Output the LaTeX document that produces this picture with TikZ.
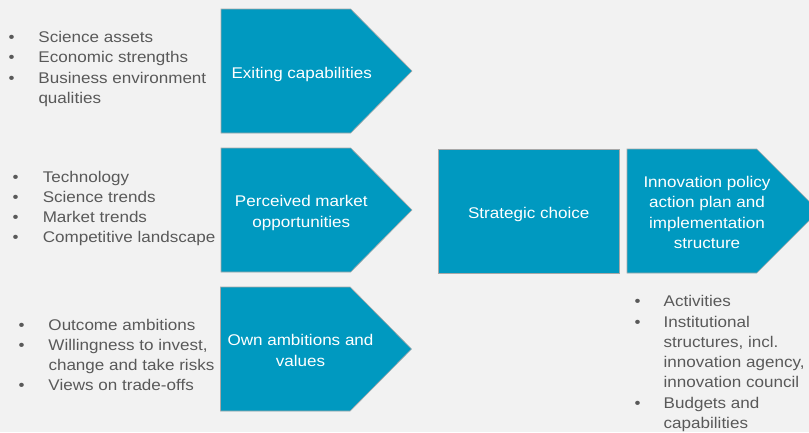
\documentclass[tikz,border=0pt]{standalone}
\usepackage{fontspec}
\setmainfont[FakeStretch=1.1]{Liberation Sans}
\definecolor{bgc}{HTML}{F2F2F2}
\definecolor{bluec}{HTML}{0099C0}
\definecolor{edgec}{HTML}{A8A8A8}
\definecolor{txtc}{HTML}{595959}
\begin{document}
\begin{tikzpicture}[x=1pt,y=-1pt,
  shapefill/.style={fill=bluec,draw=edgec,line width=0.6pt},
  listtxt/.style={anchor=base west,inner sep=0pt,text=txtc,font=\fontsize{15.5}{20.3}\selectfont},
  boxtxt/.style={anchor=base,inner sep=0pt,text=white,font=\fontsize{15.5}{20.5}\selectfont}]
\useasboundingbox (0,0) rectangle (809,432);
\clip (0,0) rectangle (809,432);
\fill[bgc] (0,0) rectangle (809,432);
% pentagon arrows
\draw[shapefill] (221,9) -- (350.7,9) -- (412,71) -- (350.7,133) -- (221,133) -- cycle;
\draw[shapefill] (221,148) -- (350.7,148) -- (412,210) -- (350.7,272) -- (221,272) -- cycle;
\draw[shapefill] (220.5,287) -- (350.2,287) -- (411.5,349) -- (350.2,411) -- (220.5,411) -- cycle;
\draw[shapefill] (438.3,149) rectangle (619,273);
\draw[shapefill] (627,149) -- (756.7,149) -- (818.7,211) -- (756.7,273) -- (627,273) -- cycle;
% box labels
\node[boxtxt] (exist) at (301.7,78.3) {Exiting capabilities};
\node[boxtxt] (market) at (301.3,206.7) {\begin{tabular}[t]{@{}c@{}}Perceived market\\opportunities\end{tabular}};
\node[boxtxt] (own) at (300.5,345.7) {\begin{tabular}[t]{@{}c@{}}Own ambitions and\\values\end{tabular}};
\node[boxtxt] (strat) at (528.7,218.3) {Strategic choice};
\node[boxtxt] (innov) at (707,187.3) {\begin{tabular}[t]{@{}c@{}}Innovation policy\\action plan and\\implementation\\structure\end{tabular}};
% bullet lists
\node[listtxt] (l1) at (8.5,42.5) {\begin{tabular}[t]{@{}p{29.8pt}@{}l@{}}
•&Science assets\\
•&Economic strengths\\
•&Business environment\\
&qualities\end{tabular}};
\node[listtxt] (l2) at (12.5,182) {\begin{tabular}[t]{@{}p{30.1pt}@{}l@{}}
•&Technology\\
•&Science trends\\
•&Market trends\\
•&Competitive landscape\end{tabular}};
\node[listtxt] (l3) at (18.3,330) {\begin{tabular}[t]{@{}p{30pt}@{}l@{}}
•&Outcome ambitions\\
•&Willingness to invest,\\
&change and take risks\\
•&Views on trade-offs\end{tabular}};
\node[listtxt] (l4) at (634.3,306.7) {\begin{tabular}[t]{@{}p{29.2pt}@{}l@{}}
•&Activities\\
•&Institutional\\
&structures, incl.\\
&innovation agency,\\
&innovation council\\
•&Budgets and\\
&capabilities\end{tabular}};
\end{tikzpicture}
\end{document}
